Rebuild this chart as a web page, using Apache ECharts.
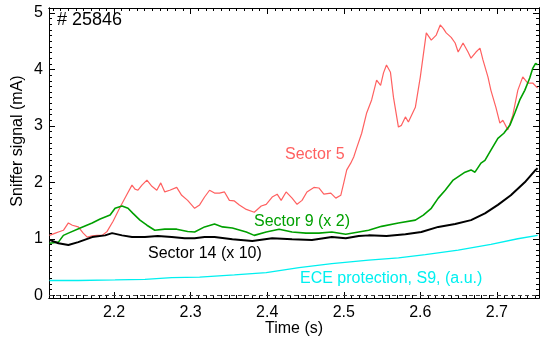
<!DOCTYPE html>
<html><head><meta charset="utf-8">
<script src="https://cdn.jsdelivr.net/npm/echarts@6/dist/echarts.min.js"></script>
<style>html,body{margin:0;padding:0;background:#fff}#c{width:540px;height:340px}</style>
</head><body><div id="c"></div>
<script>
// ---- data (time in s, signal in mA) ----
const sector5T = [2.1156,2.1234,2.1273,2.1338,2.1403,2.1455,2.1532,2.1597,2.1649,2.1714,2.1779,2.1844,2.1909,2.1987,2.2078,2.2169,2.2234,2.2273,2.2312,2.2364,2.2429,2.2494,2.2558,2.2610,2.2662,2.2727,2.2818,2.2883,2.2961,2.3052,2.3117,2.3182,2.3247,2.3312,2.3377,2.3442,2.3506,2.3571,2.3636,2.3727,2.3831,2.3922,2.3987,2.4065,2.4130,2.4182,2.4247,2.4325,2.4390,2.4455,2.4519,2.4610,2.4675,2.4740,2.4831,2.4896,2.4961,2.5000,2.5039,2.5091,2.5130,2.5169,2.5234,2.5299,2.5364,2.5429,2.5481,2.5519,2.5558,2.5610,2.5649,2.5714,2.5753,2.5805,2.5844,2.5935,2.6000,2.6078,2.6143,2.6208,2.6260,2.6299,2.6338,2.6403,2.6455,2.6494,2.6558,2.6623,2.6662,2.6727,2.6779,2.6818,2.6883,2.6922,2.6987,2.7039,2.7078,2.7143,2.7208,2.7273,2.7338,2.7403,2.7468,2.7532];
const sector5V = [1.06,1.10,1.12,1.15,1.28,1.24,1.21,1.10,1.03,1.05,1.06,1.06,1.13,1.31,1.56,1.79,1.95,1.88,1.86,1.95,2.04,1.93,1.86,1.99,1.83,1.86,1.91,1.77,1.68,1.54,1.60,1.74,1.86,1.81,1.81,1.83,1.68,1.67,1.60,1.52,1.47,1.58,1.61,1.74,1.79,1.68,1.83,1.72,1.61,1.68,1.83,1.91,1.90,1.79,1.81,1.72,1.77,1.99,2.22,2.34,2.45,2.61,2.87,3.23,3.46,3.81,3.72,3.94,4.08,3.95,3.51,2.98,3.01,3.16,3.07,3.33,3.87,4.65,4.52,4.61,4.79,4.73,4.65,4.57,4.47,4.31,4.47,4.31,4.20,4.31,4.38,4.17,3.87,3.63,3.33,3.05,3.10,2.93,3.19,3.63,3.87,3.76,3.76,3.67];

const sector9T = [2.1156,2.1273,2.1338,2.1403,2.1558,2.1714,2.1818,2.1948,2.2013,2.2104,2.2182,2.2247,2.2338,2.2429,2.2532,2.2662,2.2818,2.2961,2.3052,2.3182,2.3312,2.3416,2.3545,2.3727,2.3831,2.3987,2.4156,2.4325,2.4506,2.4675,2.4844,2.5026,2.5195,2.5325,2.5494,2.5714,2.5935,2.6039,2.6143,2.6234,2.6325,2.6429,2.6584,2.6662,2.6714,2.6792,2.6844,2.6922,2.7013,2.7091,2.7169,2.7234,2.7299,2.7364,2.7429,2.7468,2.7506,2.7532];
const sector9V = [0.92,0.94,1.06,1.10,1.19,1.28,1.35,1.42,1.54,1.58,1.54,1.45,1.33,1.24,1.15,1.17,1.17,1.13,1.12,1.21,1.26,1.21,1.19,1.12,1.06,1.12,1.17,1.12,1.10,1.10,1.12,1.08,1.12,1.15,1.22,1.28,1.33,1.42,1.54,1.72,1.86,2.04,2.18,2.22,2.18,2.34,2.39,2.57,2.78,2.87,3.01,3.23,3.46,3.63,3.85,4.02,4.11,4.08];

const sector14T = [2.1156,2.1273,2.1403,2.1532,2.1714,2.1883,2.1974,2.2104,2.2234,2.2403,2.2571,2.2753,2.2922,2.3052,2.3182,2.3312,2.3545,2.3805,2.4065,2.4325,2.4584,2.4844,2.5026,2.5195,2.5325,2.5558,2.5805,2.6013,2.6234,2.6455,2.6662,2.6844,2.7013,2.7182,2.7364,2.7506,2.7532];
const sector14V = [0.98,0.92,0.89,0.94,1.03,1.06,1.10,1.06,1.03,1.03,1.05,1.03,1.01,1.01,1.03,1.03,0.99,0.96,1.01,0.99,0.98,1.03,1.01,1.05,1.06,1.05,1.08,1.12,1.21,1.26,1.33,1.45,1.60,1.77,2.00,2.22,2.25];

const eceT = [2.1156,2.1532,2.2013,2.2403,2.2753,2.3117,2.3571,2.3987,2.4416,2.4844,2.5325,2.5714,2.6065,2.6494,2.6922,2.7273,2.7532];
const eceV = [0.26,0.26,0.27,0.28,0.31,0.32,0.36,0.40,0.49,0.56,0.62,0.66,0.72,0.80,0.90,1.00,1.06];

const xTickLabels = [2.2,2.3,2.4,2.5,2.6,2.7];
const yTickLabels = [0,1,2,3,4,5];
const xMinor = []; for (let i = 212; i <= 275; i++) xMinor.push(i/100);
const yMinor = []; for (let i = 0; i <= 50; i++) yMinor.push(i/10);

const zip = (t, v) => t.map((x, i) => [x, v[i]]);
const FONT = 'Liberation Sans, Arial, sans-serif';
const X_MIN = 2.115, X_MAX = 2.755, Y_MIN = -0.05, Y_MAX = 5.09;

function xAx(pos, ticks, len, labels) {
  return {
    type: 'value', min: X_MIN, max: X_MAX, position: pos, gridIndex: 0,
    axisLine: { show: true, onZero: false, lineStyle: { color: '#000', width: 1 } },
    axisTick: { show: true, inside: true, length: len, customValues: ticks, lineStyle: { color: '#000', width: 1 } },
    axisLabel: labels ? { show: true, customValues: ticks, formatter: v => v.toFixed(1), color: '#000', fontSize: 16, fontFamily: FONT, margin: 7 } : { show: false },
    splitLine: { show: false }
  };
}
function yAx(pos, ticks, len, labels) {
  return {
    type: 'value', min: Y_MIN, max: Y_MAX, position: pos, gridIndex: 0,
    axisLine: { show: true, onZero: false, lineStyle: { color: '#000', width: 1 } },
    axisTick: { show: true, inside: true, length: len, customValues: ticks, lineStyle: { color: '#000', width: 1 } },
    axisLabel: labels ? { show: true, customValues: ticks, formatter: v => String(Math.round(v)), color: '#000', fontSize: 16, fontFamily: FONT, margin: 6 } : { show: false },
    splitLine: { show: false }
  };
}

const chart = echarts.init(document.getElementById('c'), null, { renderer: 'canvas' });
const line = (name, data, color, width) => ({
  name, type: 'line', data, xAxisIndex: 0, yAxisIndex: 0, showSymbol: false, symbol: 'none',
  lineStyle: { color, width }, animation: false, z: 3
});
chart.setOption({
  animation: false,
  backgroundColor: '#fff',
  grid: { left: 49, top: 8, right: 1, bottom: 42, containLabel: false },
  xAxis: [xAx('bottom', xTickLabels, 6, true), xAx('bottom', xMinor, 3, false), xAx('top', xTickLabels, 6, false), xAx('top', xMinor, 3, false)],
  yAxis: [yAx('left', yTickLabels, 6, true), yAx('left', yMinor, 3, false), yAx('right', yTickLabels, 6, false), yAx('right', yMinor, 3, false)],
  series: [
    Object.assign(line('Sector 5', zip(sector5T, sector5V), '#ff6060', 1.2), {
      markLine: { silent: true, symbol: 'none', label: { show: false }, lineStyle: { color: '#444', type: [4, 3], width: 1 }, data: [{ yAxis: 0 }] }
    }),
    line('Sector 9 (x 2)', zip(sector9T, sector9V), '#00a000', 1.6),
    line('Sector 14 (x 10)', zip(sector14T, sector14V), '#000000', 2),
    line('ECE protection', zip(eceT, eceV), '#00f0f0', 1.3)
  ],
  graphic: [
    { type: 'text', style: { x: 57, y: 20, text: '# 25846', fill: '#000', font: '18px ' + FONT, verticalAlign: 'middle' } },
    { type: 'text', style: { x: 285, y: 155, text: 'Sector 5', fill: '#ff6060', font: '16px ' + FONT, verticalAlign: 'middle' } },
    { type: 'text', style: { x: 254, y: 222, text: 'Sector 9 (x 2)', fill: '#00a000', font: '16px ' + FONT, verticalAlign: 'middle' } },
    { type: 'text', style: { x: 148, y: 254, text: 'Sector 14 (x 10)', fill: '#000', font: '16px ' + FONT, verticalAlign: 'middle' } },
    { type: 'text', style: { x: 300, y: 279, text: 'ECE protection, S9, (a.u.)', fill: '#00f0f0', font: '16px ' + FONT, verticalAlign: 'middle' } },
    { type: 'text', style: { x: 294, y: 329, text: 'Time (s)', fill: '#000', font: '16px ' + FONT, align: 'center', verticalAlign: 'middle' } },
    { type: 'text', x: 18, y: 141, rotation: Math.PI / 2, style: { x: 0, y: 0, text: 'Sniffer signal (mA)', fill: '#000', font: '16px ' + FONT, align: 'center', verticalAlign: 'middle' } }
  ]
});
</script>
</body></html>
